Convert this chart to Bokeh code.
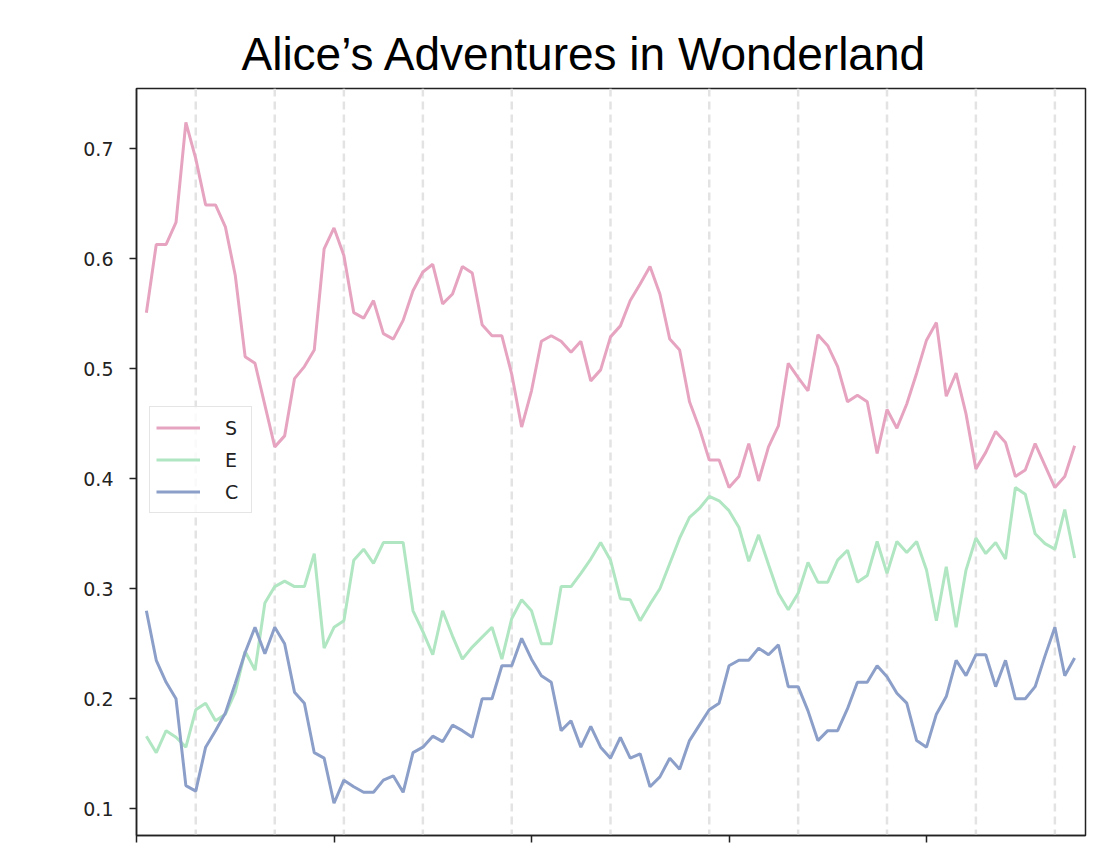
from bokeh.plotting import figure
from bokeh.models import Span, Label, Legend, LegendItem, FixedTicker, Range1d
from bokeh.embed import file_html
from bokeh.resources import INLINE

title_text = "Alice\u2019s Adventures in Wonderland"
series_names = ["S", "E", "C"]
series_colors = ["#e6a4c1", "#b0e6c2", "#8c9fc9"]

S = [0.551, 0.613, 0.613, 0.633, 0.724, 0.691, 0.649, 0.649, 0.629, 0.585,
     0.511, 0.505, 0.467, 0.429, 0.439, 0.491, 0.502, 0.517, 0.609, 0.628,
     0.603, 0.551, 0.546, 0.562, 0.532, 0.527, 0.544, 0.571, 0.588, 0.595,
     0.559, 0.568, 0.593, 0.587, 0.540, 0.530, 0.530, 0.495, 0.447, 0.480,
     0.525, 0.530, 0.525, 0.515, 0.525, 0.489, 0.499, 0.529, 0.539, 0.562,
     0.577, 0.593, 0.568, 0.527, 0.517, 0.470, 0.446, 0.417, 0.417, 0.392,
     0.402, 0.432, 0.398, 0.429, 0.448, 0.505, 0.492, 0.480, 0.531, 0.521,
     0.502, 0.470, 0.476, 0.470, 0.423, 0.463, 0.446, 0.468, 0.496, 0.526,
     0.542, 0.475, 0.496, 0.459, 0.409, 0.424, 0.443, 0.433, 0.402, 0.408,
     0.432, 0.412, 0.392, 0.402, 0.430]

E = [0.166, 0.151, 0.171, 0.165, 0.156, 0.190, 0.196, 0.180, 0.186, 0.206,
     0.243, 0.226, 0.287, 0.302, 0.307, 0.302, 0.302, 0.332, 0.246, 0.265,
     0.271, 0.326, 0.336, 0.323, 0.342, 0.342, 0.342, 0.280, 0.261, 0.240,
     0.280, 0.257, 0.236, 0.247, 0.256, 0.265, 0.236, 0.273, 0.290, 0.280,
     0.250, 0.250, 0.302, 0.302, 0.314, 0.327, 0.342, 0.326, 0.291, 0.290,
     0.271, 0.286, 0.300, 0.323, 0.346, 0.365, 0.373, 0.384, 0.380, 0.371,
     0.356, 0.325, 0.349, 0.322, 0.296, 0.281, 0.296, 0.324, 0.306, 0.306,
     0.326, 0.335, 0.306, 0.312, 0.343, 0.314, 0.343, 0.333, 0.343, 0.317,
     0.271, 0.320, 0.265, 0.317, 0.346, 0.332, 0.342, 0.327, 0.392, 0.386,
     0.350, 0.341, 0.336, 0.372, 0.328]

C = [0.280, 0.235, 0.215, 0.200, 0.121, 0.116, 0.156, 0.171, 0.187, 0.214,
     0.242, 0.265, 0.241, 0.265, 0.250, 0.206, 0.196, 0.151, 0.146, 0.105,
     0.126, 0.120, 0.115, 0.115, 0.126, 0.130, 0.115, 0.151, 0.156, 0.166,
     0.161, 0.176, 0.171, 0.165, 0.200, 0.200, 0.230, 0.230, 0.255, 0.236,
     0.221, 0.215, 0.171, 0.180, 0.156, 0.175, 0.156, 0.146, 0.165, 0.146,
     0.150, 0.120, 0.129, 0.146, 0.136, 0.162, 0.176, 0.190, 0.196, 0.230,
     0.235, 0.235, 0.246, 0.240, 0.249, 0.211, 0.211, 0.189, 0.162, 0.171,
     0.171, 0.191, 0.215, 0.215, 0.230, 0.220, 0.205, 0.196, 0.162, 0.156,
     0.186, 0.202, 0.235, 0.221, 0.240, 0.240, 0.211, 0.235, 0.200, 0.200,
     0.211, 0.239, 0.265, 0.221, 0.237]

chapter_breaks = [6, 14, 21, 29, 38, 48, 58, 67, 76, 85, 93]
x_ticks = [0, 20, 40, 60, 80]
y_ticks = [0.1, 0.2, 0.3, 0.4, 0.5, 0.6, 0.7]

x = list(range(1, len(S) + 1))

Y0, Y1 = 0.0757, 0.7548

p = figure(width=1114, height=853, output_backend="svg", toolbar_location=None,
           x_range=Range1d(0, 96.1), y_range=Range1d(Y0, Y1),
           min_border_left=136, min_border_right=29, min_border_top=88,
           min_border_bottom=18)

p.title.text = title_text
p.title.text_font = "Liberation Sans"
p.title.text_font_size = "46px"
p.title.text_font_style = "normal"
p.title.text_color = "#000000"
p.title.align = "left"
p.title.offset = 105
p.title.standoff = 17

p.grid.visible = False
p.outline_line_color = "#222222"
p.outline_line_width = 1.5
p.background_fill_color = "white"
p.border_fill_color = "white"

# y axis
p.yaxis.ticker = FixedTicker(ticks=y_ticks)
p.yaxis.major_label_text_font = "DejaVu Sans"
p.yaxis.major_label_text_font_size = "19px"
p.yaxis.major_label_text_color = "#222222"
p.yaxis.major_label_standoff = 16
p.yaxis.major_tick_out = 7
p.yaxis.major_tick_in = 0
p.yaxis.minor_tick_line_color = None
p.yaxis.axis_line_color = "#222222"
p.yaxis.axis_line_width = 1.5
p.yaxis.major_tick_line_color = "#222222"
p.yaxis.major_tick_line_width = 1.5

# x axis: tick marks only; the tick labels sit just below, mostly cut by the
# bottom edge of the page exactly as in the reference
p.xaxis.ticker = FixedTicker(ticks=x_ticks)
p.xaxis.major_label_overrides = {t: "" for t in x_ticks}
p.xaxis.major_label_text_font_size = "1px"
p.xaxis.major_label_standoff = 0
p.xaxis.major_tick_out = 7
p.xaxis.major_tick_in = 0
p.xaxis.minor_tick_line_color = None
p.xaxis.axis_line_color = "#222222"
p.xaxis.axis_line_width = 1.5
p.xaxis.major_tick_line_color = "#222222"
p.xaxis.major_tick_line_width = 1.5

for t in x_ticks:
    p.add_layout(Label(x=t, y=Y0 - 13 / 1100, text=str(t), text_align="center",
                       text_baseline="middle", text_font="DejaVu Sans",
                       text_font_size="19px", text_color="#222222",
                       y_offset=-14))

for b in chapter_breaks:
    p.add_layout(Span(location=b, dimension="height", line_color="#e3e3e3",
                      line_width=2.5, line_dash="8 5", level="underlay"))

renderers = []
for name, vals, col in zip(series_names, [S, E, C], series_colors):
    r = p.line(x, vals, line_color=col, line_width=3)
    renderers.append((name, r))

legend = Legend(items=[LegendItem(label=n, renderers=[r]) for n, r in renderers],
                location=(13, 322))
legend.label_text_font = "DejaVu Sans"
legend.label_text_font_size = "19px"
legend.label_text_color = "#222222"
legend.glyph_width = 44
legend.glyph_height = 29
legend.label_height = 29
legend.label_standoff = 25
legend.spacing = 3
legend.padding = 6
legend.margin = 0
legend.border_line_color = "#cccccc"
legend.border_line_width = 1.5
legend.background_fill_alpha = 0.8
p.add_layout(legend, "center")

open("out.html", "w").write(file_html(p, INLINE))
